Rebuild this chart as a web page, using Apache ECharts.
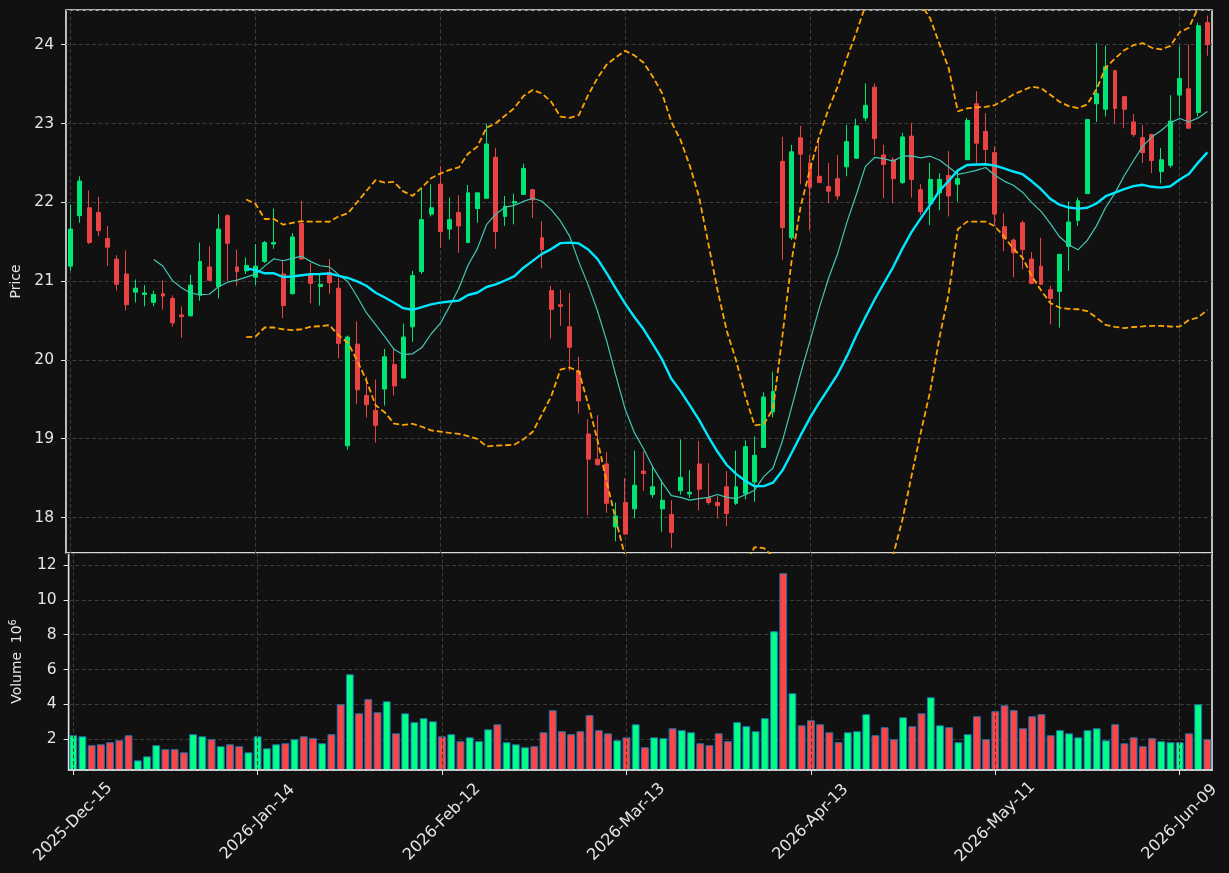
<!DOCTYPE html>
<html>
<head>
<meta charset="utf-8">
<title>Price / Volume</title>
<script src="https://cdn.jsdelivr.net/npm/echarts@6/dist/echarts.min.js"></script>
<style>
  html, body { margin: 0; padding: 0; background: #111111; }
  #chart { width: 1229px; height: 873px; }
</style>
</head>
<body>
<div id="chart"></div>
<script>
// daily OHLC
const opens = [21.19, 21.83, 21.93, 21.87, 21.54, 21.28, 21.09, 20.86, 20.83, 20.73,
  20.84, 20.78, 20.57, 20.56, 20.82, 21.18, 20.93, 21.83, 21.18, 21.13,
  21.05, 21.25, 21.47, 21.09, 20.84, 21.73, 21.09, 20.93, 21.11, 20.91,
  18.91, 20.20, 19.55, 19.36, 19.63, 19.94, 19.77, 20.42, 21.12, 21.85,
  22.23, 21.66, 21.87, 21.49, 21.92, 22.05, 22.57, 21.82, 21.99, 22.10,
  22.16, 21.55, 20.88, 20.70, 20.42, 19.86, 19.06, 18.74, 18.68, 17.88,
  18.19, 18.11, 18.59, 18.29, 18.11, 18.04, 18.34, 18.30, 18.68, 18.25,
  18.19, 18.39, 18.18, 18.30, 18.45, 18.89, 19.34, 22.52, 21.55, 22.82,
  22.50, 22.33, 22.20, 22.30, 22.45, 22.56, 23.07, 23.46, 22.60, 22.54,
  22.25, 22.84, 22.16, 21.98, 22.12, 22.34, 22.23, 22.54, 23.25, 22.90,
  22.63, 21.69, 21.52, 21.74, 21.28, 21.19, 20.89, 20.87, 21.44, 21.77,
  22.11, 23.25, 23.18, 23.67, 23.34, 23.02, 22.82, 22.86, 22.39, 22.47,
  23.36, 23.44, 23.14, 24.28];
const closes = [21.66, 22.27, 21.49, 21.64, 21.43, 20.96, 20.70, 20.91, 20.85, 20.83,
  20.81, 20.47, 20.55, 20.95, 21.25, 21.01, 21.66, 21.48, 21.12, 21.20,
  21.19, 21.49, 21.49, 20.69, 21.56, 21.28, 20.97, 20.96, 20.98, 20.21,
  20.29, 19.62, 19.43, 19.17, 20.04, 19.67, 20.29, 21.07, 21.78, 21.93,
  21.63, 21.78, 21.70, 22.12, 22.12, 22.74, 21.63, 21.95, 22.01, 22.43,
  22.03, 21.40, 20.64, 20.68, 20.16, 19.48, 18.74, 18.67, 18.18, 18.02,
  17.79, 18.41, 18.56, 18.39, 18.22, 17.81, 18.51, 18.32, 18.36, 18.19,
  18.15, 18.05, 18.39, 18.90, 18.79, 19.53, 19.60, 21.68, 22.64, 22.61,
  22.19, 22.25, 22.14, 22.08, 22.77, 22.97, 23.23, 22.81, 22.48, 22.30,
  22.83, 22.29, 21.88, 22.29, 22.29, 22.08, 22.30, 23.04, 22.75, 22.67,
  21.85, 21.54, 21.36, 21.40, 20.97, 20.96, 20.78, 21.34, 21.75, 22.02,
  23.05, 23.38, 23.72, 23.19, 23.18, 22.86, 22.63, 22.53, 22.54, 23.03,
  23.57, 22.94, 24.24, 24.00];
const lows = [21.13, 21.74, 21.47, 21.57, 21.19, 20.88, 20.63, 20.73, 20.68, 20.68,
  20.64, 20.42, 20.28, 20.55, 20.75, 21.00, 20.78, 21.00, 20.94, 21.09,
  20.95, 21.23, 21.41, 20.53, 20.83, 21.27, 20.72, 20.69, 20.84, 20.02,
  18.86, 19.44, 19.27, 18.95, 19.42, 19.55, 19.77, 20.23, 21.09, 21.82,
  21.42, 21.53, 21.36, 21.48, 21.74, 22.05, 21.41, 21.70, 21.72, 22.10,
  21.80, 21.16, 20.27, 20.43, 19.86, 19.32, 18.03, 18.66, 18.06, 17.70,
  17.78, 17.99, 18.34, 18.25, 17.82, 17.61, 18.29, 18.25, 18.09, 18.16,
  17.99, 17.89, 18.16, 18.23, 18.20, 18.89, 19.27, 21.27, 21.52, 22.23,
  21.64, 22.25, 21.99, 22.03, 22.33, 22.56, 23.03, 22.60, 22.05, 21.99,
  22.23, 22.06, 21.84, 21.71, 21.90, 21.82, 22.01, 22.54, 22.50, 22.47,
  21.71, 21.38, 21.05, 21.15, 20.96, 20.95, 20.45, 20.41, 21.13, 21.70,
  22.11, 23.02, 23.09, 23.00, 22.94, 22.83, 22.50, 22.37, 22.24, 22.44,
  23.10, 22.93, 23.09, 23.86];
const highs = [21.97, 22.33, 22.15, 22.07, 21.70, 21.33, 21.39, 21.02, 20.95, 20.88,
  21.01, 20.82, 20.68, 21.08, 21.49, 21.44, 21.85, 21.85, 21.40, 21.30,
  21.47, 21.51, 21.92, 21.27, 21.61, 22.02, 21.23, 21.09, 21.28, 21.04,
  20.31, 20.49, 19.79, 19.75, 20.14, 20.15, 20.46, 21.13, 22.17, 22.23,
  22.46, 22.06, 22.09, 22.22, 22.12, 23.00, 22.69, 22.08, 22.11, 22.49,
  22.17, 21.76, 20.94, 20.89, 20.85, 20.04, 19.25, 19.30, 18.83, 18.19,
  18.50, 18.85, 18.84, 18.65, 18.48, 18.22, 18.99, 18.60, 18.97, 18.69,
  18.27, 18.59, 18.85, 18.98, 19.03, 19.59, 19.85, 22.83, 22.73, 22.97,
  22.60, 22.78, 22.50, 22.60, 22.98, 23.06, 23.51, 23.51, 22.73, 22.57,
  22.88, 23.01, 22.23, 22.50, 22.37, 22.65, 22.39, 23.07, 23.41, 23.13,
  22.71, 21.86, 21.54, 21.77, 21.37, 21.55, 20.94, 21.34, 22.01, 22.06,
  23.06, 24.02, 23.99, 23.68, 23.35, 23.12, 22.98, 22.87, 22.69, 23.36,
  23.98, 24.00, 24.28, 24.37];
// volume, in millions
const volumes = [2.23, 2.17, 1.66, 1.71, 1.83, 1.94, 2.23, 0.79, 1.02, 1.66,
  1.43, 1.43, 1.25, 2.29, 2.17, 2.00, 1.60, 1.71, 1.60, 1.25,
  2.17, 1.48, 1.71, 1.77, 2.00, 2.17, 2.06, 1.77, 2.29, 4.01,
  5.73, 3.49, 4.30, 3.55, 4.18, 2.34, 3.49, 2.98, 3.21, 3.03,
  2.17, 2.29, 1.89, 2.11, 1.89, 2.57, 2.86, 1.83, 1.71, 1.54,
  1.60, 2.40, 3.67, 2.46, 2.29, 2.46, 3.38, 2.52, 2.34, 1.94,
  2.11, 2.86, 1.54, 2.11, 2.06, 2.63, 2.52, 2.40, 1.77, 1.66,
  2.34, 1.89, 2.98, 2.75, 2.46, 3.21, 8.20, 11.53, 4.64, 2.80,
  3.09, 2.86, 2.40, 1.83, 2.40, 2.46, 3.44, 2.23, 2.69, 2.00,
  3.26, 2.75, 3.49, 4.41, 2.80, 2.69, 1.83, 2.29, 3.32, 2.00,
  3.61, 3.95, 3.67, 2.63, 3.32, 3.44, 2.23, 2.52, 2.34, 2.11,
  2.52, 2.63, 1.94, 2.86, 1.77, 2.11, 1.60, 2.06, 1.89, 1.83,
  1.83, 2.34, 4.01, 2.00];

// trading days starting 2025-12-15 (weekends and exchange holidays skipped)
const holidays = ['2025-12-25', '2026-01-01', '2026-01-19', '2026-02-16', '2026-04-03', '2026-05-25'];
const monthNames = ['Jan', 'Feb', 'Mar', 'Apr', 'May', 'Jun', 'Jul', 'Aug', 'Sep', 'Oct', 'Nov', 'Dec'];
const pad = n => (n < 10 ? '0' : '') + n;
const dates = [];
let day = new Date(Date.UTC(2025, 11, 15));
while (dates.length < closes.length) {
  const iso = day.getUTCFullYear() + '-' + pad(day.getUTCMonth() + 1) + '-' + pad(day.getUTCDate());
  const wd = day.getUTCDay();
  if (wd !== 0 && wd !== 6 && holidays.indexOf(iso) < 0) {
    dates.push(day.getUTCFullYear() + '-' + monthNames[day.getUTCMonth()] + '-' + pad(day.getUTCDate()));
  }
  day = new Date(day.getTime() + 86400000);
}

// moving averages / bollinger(20, 2) from the closes
function movingAvg (src, n) {
  return src.map((v, i) => {
    if (i < n - 1) return null;
    let s = 0;
    for (let k = i - n + 1; k <= i; k++) s += src[k];
    return s / n;
  });
}
function band (src, n, mult, sign) {
  const mid = movingAvg(src, n);
  return src.map((v, i) => {
    if (mid[i] == null) return null;
    let s = 0;
    for (let k = i - n + 1; k <= i; k++) s += (src[k] - mid[i]) * (src[k] - mid[i]);
    return mid[i] + sign * mult * Math.sqrt(s / n);
  });
}
const ma10 = movingAvg(closes, 10);
const ma20 = movingAvg(closes, 20);
const bbUpper = band(closes, 20, 2, 1);
const bbLower = band(closes, 20, 2, -1);

const upColor = '#00e676';
const downColor = '#ea4343';
const upVol = '#00ff84';
const downVol = '#ff4444';
const textColor = '#e6e6e6';
const spine = '#e6e6e6';
const font = '"DejaVu Sans", sans-serif';
const fs = 13.9;   // axis names
const tfs = 15.5;  // tick labels

const candleData = opens.map((o, i) => [o, closes[i], lows[i], highs[i]]);
const volData = volumes.map((v, i) => ({
  value: v,
  itemStyle: { color: closes[i] >= opens[i] ? upVol : downVol }
}));

const splitLine = {
  show: true,
  lineStyle: { color: '#3d3d3d', width: 1, type: [4, 2.5] }
};
const catSplit = {
  show: true,
  interval: 19,
  alignWithLabel: true,
  lineStyle: { color: '#3d3d3d', width: 1, type: [4, 2.5] }
};

let myChart = echarts.init(document.getElementById('chart'));
let option = {
  backgroundColor: '#111111',
  animation: false,
  textStyle: { fontFamily: font },
  grid: [
    { left: 66, right: 17, top: 10, height: 543, show: true, borderColor: spine, borderWidth: 1.6, backgroundColor: 'transparent' },
    { left: 66, right: 17, top: 553, height: 217, show: true, borderColor: spine, borderWidth: 1.6, backgroundColor: 'transparent' }
  ],
  xAxis: [
    {
      type: 'category',
      gridIndex: 0,
      data: dates,
      boundaryGap: true,
      axisLine: { show: false },
      axisTick: { show: false },
      axisLabel: { show: false },
      splitLine: catSplit
    },
    {
      type: 'category',
      gridIndex: 1,
      data: dates,
      boundaryGap: true,
      z: 10,
      axisLine: { show: true, lineStyle: { color: spine, width: 1.6 } },
      axisTick: { show: true, interval: 19, alignWithLabel: true, length: 5, lineStyle: { color: spine } },
      axisLabel: {
        interval: 19,
        rotate: 45,
        align: 'center',
        verticalAlign: 'middle',
        margin: 52,
        color: textColor,
        fontSize: 16,
        fontFamily: font
      },
      splitLine: catSplit
    }
  ],
  yAxis: [
    {
      type: 'value',
      gridIndex: 0,
      min: 17.55,
      max: 24.44,
      splitNumber: 7,
      name: 'Price',
      nameLocation: 'middle',
      nameRotate: 90,
      nameGap: 38,
      nameTextStyle: { color: textColor, fontSize: fs, fontFamily: font },
      axisLine: { show: false },
      axisTick: { show: true, length: 5, lineStyle: { color: spine } },
      axisLabel: { color: textColor, fontSize: tfs, fontFamily: font, margin: 12, showMinLabel: false, showMaxLabel: false },
      splitLine: splitLine
    },
    {
      type: 'value',
      gridIndex: 1,
      min: 0.236,
      max: 12.69,
      splitNumber: 6,
      name: 'Volume  10{s|6}',
      nameLocation: 'middle',
      nameRotate: 90,
      nameGap: 38,
      nameTextStyle: {
        color: textColor,
        fontSize: fs,
        fontFamily: font,
        lineHeight: 18,
        rich: {
          s: { fontSize: 9.7, fontFamily: font, color: textColor, verticalAlign: 'top', lineHeight: 18 }
        }
      },
      axisLine: { show: false },
      axisTick: { show: true, length: 5, lineStyle: { color: spine } },
      axisLabel: { color: textColor, fontSize: tfs, fontFamily: font, margin: 12, showMinLabel: false, showMaxLabel: false },
      splitLine: splitLine
    }
  ],
  series: [
    {
      name: 'OHLC',
      type: 'candlestick',
      xAxisIndex: 0,
      yAxisIndex: 0,
      data: candleData,
      barWidth: 4.4,
      z: 2,
      itemStyle: {
        color: upColor,
        color0: downColor,
        borderColor: upColor,
        borderColor0: downColor,
        borderWidth: 1
      }
    },
    {
      name: 'MA10',
      type: 'line',
      xAxisIndex: 0,
      yAxisIndex: 0,
      data: ma10,
      symbol: 'none',
      z: 3,
      lineStyle: { color: '#40c8b4', width: 1.2 }
    },
    {
      name: 'MA20',
      type: 'line',
      xAxisIndex: 0,
      yAxisIndex: 0,
      data: ma20,
      symbol: 'none',
      z: 3,
      lineStyle: { color: '#00e8ff', width: 2.4 }
    },
    {
      name: 'BB upper',
      type: 'line',
      xAxisIndex: 0,
      yAxisIndex: 0,
      data: bbUpper,
      symbol: 'none',
      z: 3,
      lineStyle: { color: '#ffa500', width: 1.8, type: [6, 3] }
    },
    {
      name: 'BB lower',
      type: 'line',
      xAxisIndex: 0,
      yAxisIndex: 0,
      data: bbLower,
      symbol: 'none',
      z: 3,
      lineStyle: { color: '#ffa500', width: 1.8, type: [6, 3] }
    },
    {
      name: 'Volume',
      type: 'bar',
      xAxisIndex: 1,
      yAxisIndex: 1,
      data: volData,
      barWidth: 7.8,
      z: 2,
      itemStyle: { borderColor: '#1f77b4', borderWidth: 1 }
    }
  ]
};
myChart.setOption(option);
</script>
</body>
</html>
